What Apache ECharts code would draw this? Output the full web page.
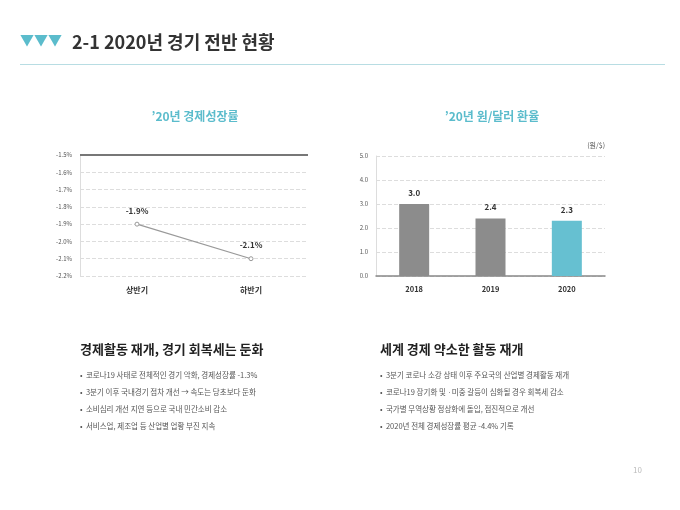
<!DOCTYPE html>
<html><head><meta charset="utf-8">
<script src="https://cdn.jsdelivr.net/npm/echarts@6/dist/echarts.min.js"></script>
<style>body{margin:0;background:#fff}#c{width:680px;height:510px}</style>
</head><body><div id="c"></div>
<script>
// 경제성장률
var growthCats = ['상반기', '하반기'];
var growthVals = [-1.9, -2.1];
// 원/달러 환율
var rateCats = ['2018', '2019', '2020'];
var rateVals = [3.0, 2.4, 2.3];
var rateColors = ['#8c8c8c', '#8c8c8c', '#66c0d1'];

var leftNotes = [
  '코로나19 사태로 전체적인 경기 악화, 경제성장률 -1.3%',
  '3분기 이후 국내경기 점차 개선 → 속도는 당초보다 둔화',
  '소비심리 개선 지연 등으로 국내 민간소비 감소',
  '서비스업, 제조업 등 산업별 업황 부진 지속'
];
var rightNotes = [
  '3분기 코로나 소강 상태 이후 주요국의 산업별 경제활동 재개',
  '코로나19 장기화 및 ·미중 갈등이 심화될 경우 회복세 감소',
  '국가별 무역상황 정상화에 돌입, 점진적으로 개선',
  '2020년 전체 경제성장률 평균 -4.4% 기록'
];

var font = '"Noto Sans CJK KR", "Noto Sans", sans-serif';
var teal = '#5bbccc';

var chart = echarts.init(document.getElementById('c'));

var graphic = [
  { type: 'text', left: 20, top: 33, style: { text: '▼▼▼', fill: teal, font: '14px ' + font } },
  { type: 'text', left: 72, top: 33, style: { text: '2-1 2020년 경기 전반 현황', fill: '#333', font: 'bold 18px ' + font } },
  { type: 'rect', shape: { x: 20, y: 64, width: 645, height: 1 }, style: { fill: '#b8dde3' } },
  { type: 'text', x: 195, y: 110, style: { text: '\u201920년 경제성장률', fill: teal, font: 'bold 12px ' + font, align: 'center' } },
  { type: 'text', x: 492, y: 110, style: { text: '\u201920년 원/달러 환율', fill: teal, font: 'bold 12px ' + font, align: 'center' } },
  { type: 'text', x: 605, y: 142, style: { text: '(원/$)', fill: '#555', font: '7px ' + font, align: 'right' } },
  { type: 'text', left: 80, top: 343, style: { text: '경제활동 재개, 경기 회복세는 둔화', fill: '#222', font: 'bold 13px ' + font } },
  { type: 'text', left: 380, top: 343, style: { text: '세계 경제 약소한 활동 재개', fill: '#222', font: 'bold 13px ' + font } },
  { type: 'text', right: 38, top: 466, style: { text: '10', fill: '#bbb', font: '8px ' + font } }
];
leftNotes.forEach(function (t, i) {
  graphic.push({ type: 'text', left: 80, top: 371 + i * 17, style: { text: '•  ' + t, fill: '#555', font: '7.5px ' + font } });
});
rightNotes.forEach(function (t, i) {
  graphic.push({ type: 'text', left: 380, top: 371 + i * 17, style: { text: '•  ' + t, fill: '#555', font: '7.5px ' + font } });
});

var dash = { lineStyle: { type: 'dashed', color: '#ddd' } };
chart.setOption({
  textStyle: { fontFamily: font },
  graphic: graphic,
  grid: [
    { left: 80, top: 155, width: 228, height: 121 },
    { left: 376, top: 156, width: 229, height: 120 }
  ],
  xAxis: [
    { gridIndex: 0, type: 'category', data: growthCats, axisLine: { show: false }, axisTick: { show: false },
      axisLabel: { color: '#333', fontSize: 8, fontWeight: 'bold', margin: 10 } },
    { gridIndex: 1, type: 'category', data: rateCats, axisLine: { lineStyle: { color: '#888', width: 1.5 } }, axisTick: { show: false },
      axisLabel: { color: '#333', fontSize: 7.5, fontWeight: 'bold', margin: 9 } }
  ],
  yAxis: [
    { gridIndex: 0, type: 'value', min: -2.2, max: -1.5, interval: 0.1,
      axisLine: { show: true, lineStyle: { color: '#ddd' } }, axisTick: { show: false }, splitLine: dash,
      axisLabel: { color: '#555', fontSize: 6, formatter: function (v) { return v.toFixed(1) + '%'; } } },
    { gridIndex: 1, type: 'value', min: 0, max: 5, interval: 1,
      axisLine: { show: true, lineStyle: { color: '#ddd' } }, axisTick: { show: false }, splitLine: dash,
      axisLabel: { color: '#555', fontSize: 6, formatter: function (v) { return v.toFixed(1); } } }
  ],
  series: [
    { type: 'line', xAxisIndex: 0, yAxisIndex: 0, data: growthVals, symbol: 'circle', symbolSize: 4,
      itemStyle: { color: '#fff', borderColor: '#999', borderWidth: 1 }, lineStyle: { color: '#999', width: 1.2 },
      label: { show: true, position: 'top', distance: 7, color: '#333', fontSize: 8, fontWeight: 'bold',
        formatter: function (p) { return p.value.toFixed(1) + '%'; } },
      markLine: { silent: true, symbol: 'none', label: { show: false }, lineStyle: { color: '#777', width: 2, type: 'solid' },
        data: [{ yAxis: -1.5 }] } },
    { type: 'bar', xAxisIndex: 1, yAxisIndex: 1, barWidth: 30,
      data: rateVals.map(function (v, i) { return { value: v, itemStyle: { color: rateColors[i] } }; }),
      label: { show: true, position: 'top', distance: 7, color: '#333', fontSize: 8, fontWeight: 'bold',
        formatter: function (p) { return p.value.toFixed(1); } } }
  ]
});
</script></body></html>
